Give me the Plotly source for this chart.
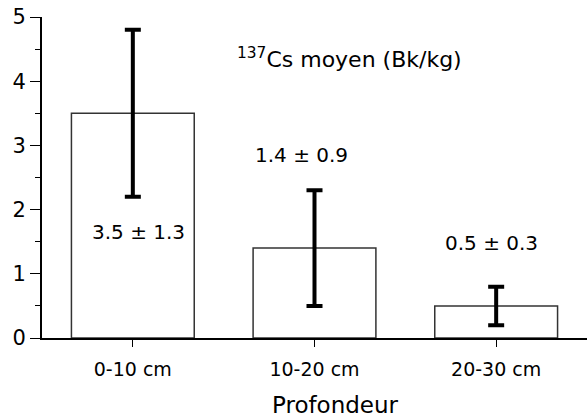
import plotly.graph_objects as go

# Mean 137Cs activity by soil depth
depths = ["0-10 cm", "10-20 cm", "20-30 cm"]
means = [3.5, 1.4, 0.5]
errors = [1.3, 0.9, 0.3]
y_ticks = [0, 1, 2, 3, 4, 5]

# value labels: (x, y) in data units
label_x = [0.033, 0.93, 1.976]
label_y = [1.65, 2.85, 1.48]

FONT = "DejaVu Sans"

fig = go.Figure()
fig.add_trace(go.Bar(
    x=list(range(len(depths))),
    y=means,
    width=0.676,
    marker=dict(color="white", line=dict(color="#333333", width=1.5)),
    error_y=dict(type="data", array=errors, visible=True,
                 color="black", thickness=4, width=8),
    showlegend=False,
))

for xi, yi, m, e in zip(label_x, label_y, means, errors):
    fig.add_annotation(x=xi, y=yi, text=f"{m} ± {e}", showarrow=False,
                       font=dict(family=FONT, size=20, color="black"))

fig.add_annotation(x=1.194, y=4.36, text="<sup>137</sup>Cs moyen (Bk/kg)",
                   showarrow=False, font=dict(family=FONT, size=22, color="black"))

fig.add_annotation(x=0.538, xref="paper", y=-0.209, yref="paper", yanchor="middle",
                   text="Profondeur", showarrow=False,
                   font=dict(family=FONT, size=23, color="black"))

fig.update_layout(
    width=587, height=419,
    margin=dict(l=42, r=0, t=17, b=81),
    paper_bgcolor="white", plot_bgcolor="white",
    font=dict(family=FONT, color="black"),
    xaxis=dict(
        range=[-0.5, 2.5], tickvals=list(range(len(depths))), ticktext=depths,
        showgrid=False, zeroline=False, showline=True, linecolor="black",
        linewidth=2, ticks="outside", ticklen=7, tickwidth=1, tickcolor="black",
        tickfont=dict(family=FONT, size=19), ticklabelstandoff=6,
        fixedrange=True,
    ),
    yaxis=dict(
        range=[0, 5], tickvals=y_ticks, showgrid=False, zeroline=False,
        showline=True, linecolor="black", linewidth=2,
        ticks="outside", ticklen=10, tickwidth=1, tickcolor="black",
        tickfont=dict(family=FONT, size=21),
        minor=dict(ticks="outside", dtick=0.5, ticklen=5, tickwidth=1,
                   tickcolor="black", showgrid=False),
    ),
)

fig.write_html("out.html")
